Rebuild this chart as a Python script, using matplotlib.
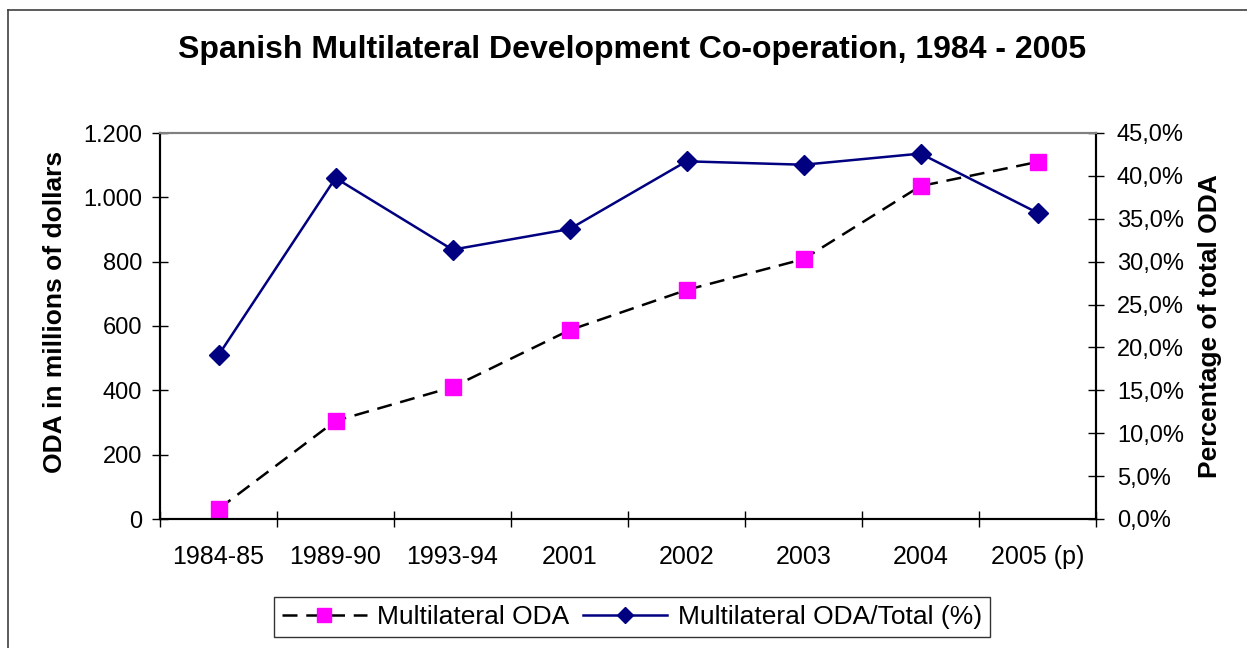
import matplotlib.pyplot as plt
from matplotlib.lines import Line2D
from matplotlib.ticker import FuncFormatter

plt.rcParams['font.family'] = ['Liberation Sans', 'DejaVu Sans']

periods = ['1984-85', '1989-90', '1993-94', '2001', '2002', '2003', '2004', '2005 (p)']
multilateral_oda = [31, 305, 410, 587, 712, 808, 1035, 1110]
share_of_total = [19.1, 39.75, 31.4, 33.8, 41.7, 41.3, 42.6, 35.7]

W, H = 1247, 648
fig = plt.figure(figsize=(W / 100, H / 100), dpi=100)

# plot area in pixels: x 160..1096, y 133..519
ax = fig.add_axes([160 / W, (H - 519) / H, 936 / W, 386 / H])
ax2 = ax.twinx()

x = list(range(len(periods)))
l1, = ax.plot(x, multilateral_oda, color='black', lw=1.8, dashes=(6, 3.5),
              marker='s', markersize=12, markerfacecolor='#ff00ff',
              markeredgecolor='#ff00ff', label='Multilateral ODA')
l2, = ax2.plot(x, share_of_total, color='#000080', lw=1.8,
               marker='D', markersize=10, markerfacecolor='#000080',
               markeredgecolor='#000080', label='Multilateral ODA/Total (%)')

ax.set_xlim(-0.5, len(periods) - 0.5)
ax.set_ylim(0, 1200)
ax2.set_ylim(0, 45)
ax.set_yticks(range(0, 1201, 200))
ax2.set_yticks([i * 5 for i in range(10)])
ax.yaxis.set_major_formatter(FuncFormatter(lambda v, p: f'{int(v):,}'.replace(',', '.')))
ax2.yaxis.set_major_formatter(FuncFormatter(lambda v, p: f'{v:.1f}%'.replace('.', ',')))

# category boundaries carry the ticks, labels sit in the middle
ax.set_xticks([i + 0.5 for i in range(-1, len(periods))])
ax.set_xticklabels([])
ax.set_xticks(x, minor=True)
ax.set_xticklabels(periods, minor=True)
ax.tick_params(axis='x', which='major', direction='inout', length=12, width=1, color='black')
ax.tick_params(axis='x', which='minor', length=0, labelsize=18, pad=19)
ax.tick_params(axis='y', direction='inout', length=12, width=1, labelsize=17, pad=7)
ax2.tick_params(axis='y', direction='inout', length=12, width=1, labelsize=17, pad=9)

for a in (ax, ax2):
    a.spines['top'].set_color('#808080')
    a.spines['top'].set_linewidth(1.5)
    a.spines['left'].set_linewidth(1.5)
    a.spines['right'].set_linewidth(1.5)
    a.spines['bottom'].set_linewidth(1.5)

ax.set_ylabel('ODA in millions of dollars', fontsize=19, fontweight='bold')
ax2.set_ylabel('Percentage of total ODA', fontsize=19, fontweight='bold')
ax.yaxis.set_label_coords(67 / W, (H - 312) / H, transform=fig.transFigure)
ax2.yaxis.set_label_coords(1198 / W, (H - 326) / H, transform=fig.transFigure)

fig.text(632 / W, 1 - 50 / H, 'Spanish Multilateral Development Co-operation, 1984 - 2005',
         ha='center', va='center', fontsize=23, fontweight='bold')

leg = fig.legend(handles=[l1, l2], loc='center', bbox_to_anchor=(632 / W, 1 - 617 / H),
                 ncol=2, fontsize=19, frameon=True, fancybox=False, edgecolor='black',
                 handlelength=3.2, columnspacing=0.5, handletextpad=0.4,
                 borderpad=0.3, markerscale=0.8)
leg.get_frame().set_linewidth(1)

# chart area border (left and top visible)
fig.add_artist(Line2D([8 / W, 8 / W], [0, 1 - 10 / H], color='#404040', lw=1.2))
fig.add_artist(Line2D([8 / W, 1], [1 - 10 / H, 1 - 10 / H], color='#404040', lw=1.2))

fig.savefig('out.png', dpi=100)
